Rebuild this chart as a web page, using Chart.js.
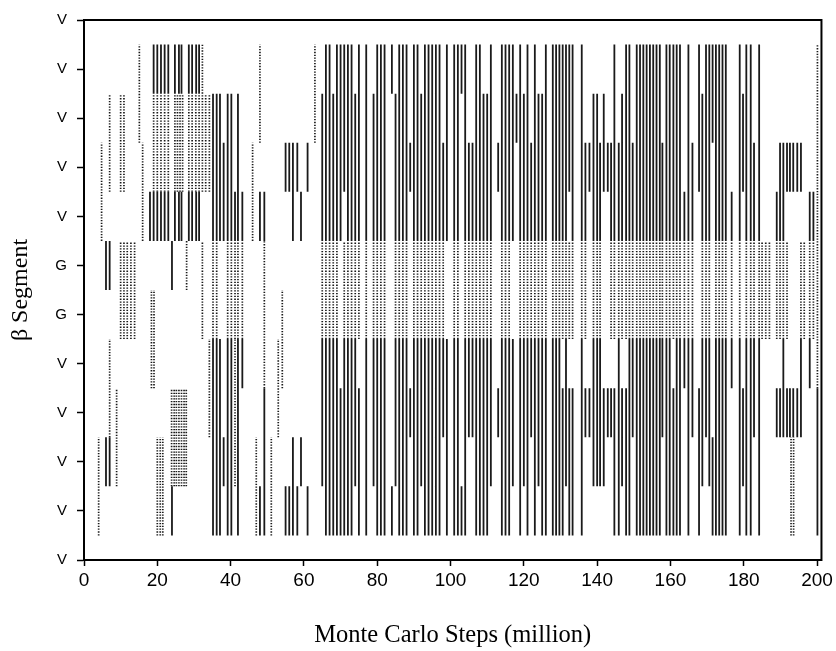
<!DOCTYPE html>
<html>
<head>
<meta charset="utf-8">
<script src="https://cdn.jsdelivr.net/npm/chart.js@4/dist/chart.umd.min.js"></script>
<style>
  html, body { margin: 0; padding: 0; background: #ffffff; }
  #wrap { width: 836px; height: 651px; }
</style>
</head>
<body>
<div id="wrap"><canvas id="c" width="836" height="651"></canvas></div>
<script>
// ---------------- DATA ----------------
// y positions: 0 (bottom) .. 11 (top); segment labels
const yLabels = ['V','V','V','V','V','G','G','V','V','V','V','V'];
const xTickStep = 20;

// Main-region columns (Monte Carlo step, million)
const colX = [65,66,67,68,69,70,71,72,73,74,75,77,79,80,81,82,84,85,86,87,88,89,90,91,92,93,94,95,96,97,98,99,101,102,103,104,105,106,107,108,109,110,111,113,114,115,116,117,118,119,120,121,122,123,124,125,126,
  127.9,128.8,129.7,130.6,131.5,132.4,133.3,135.8,136.8,137.9,139.0,140.0,140.8,141.8,142.9,143.8,144.7,145.9,146.8,147.9,148.8,149.7,150.8,151.7,152.6,153.5,154.4,155.3,156.2,157.1,157.8,158.9,159.8,160.8,161.7,162.6,163.8,164.9,166.0,167.8,168.7,169.7,170.6,171.5,172.4,173.3,174.2,175.1,176.7,178.9,179.8,180.7,181.9,182.8,184.2,189.0,189.9,190.8,191.8,192.6,193.5,194.6,195.6,198.0,199.0];
// upper V piece (solid): low and high ends
const upLo = [6.5,6.5,6.5,6.5,6.5,6.5,7.5,6.5,6.5,6.5,6.5,6.5,6.5,6.5,6.5,6.5,9.5,6.5,6.5,6.5,6.5,7.5,6.5,6.5,6.5,6.5,6.5,6.5,6.5,6.5,6.5,6.5,6.5,6.5,9.5,6.5,6.5,6.5,6.5,6.5,6.5,6.5,6.5,7.5,6.5,6.5,6.5,6.5,8.5,6.5,6.5,6.5,6.5,6.5,6.5,6.5,6.5,
  6.5,6.5,6.5,6.5,6.5,7.5,6.5,6.5,6.5,7.5,6.5,6.5,6.5,7.5,7.5,6.5,6.5,6.5,6.5,6.5,6.5,6.5,6.5,6.5,6.5,6.5,6.5,6.5,6.5,6.5,6.5,6.5,6.5,6.5,6.5,6.5,6.5,6.5,6.5,7.5,6.5,6.5,6.5,8.5,6.5,6.5,6.5,6.5,6.5,6.5,7.5,6.5,6.5,6.5,6.5,6.5,6.5,6.5,7.5,7.5,7.5,7.5,7.5,6.5,6.5];
const upHi = [9.5,10.5,10.5,9.5,10.5,10.5,10.5,10.5,10.5,9.5,10.5,10.5,9.5,10.5,10.5,10.5,10.5,9.5,10.5,10.5,10.5,8.5,10.5,10.5,9.5,10.5,10.5,10.5,10.5,10.5,8.5,10.5,10.5,10.5,10.5,10.5,8.5,8.5,10.5,10.5,9.5,9.5,10.5,8.5,10.5,10.5,10.5,10.5,9.5,10.5,9.5,10.5,8.5,10.5,9.5,9.5,10.5,
  10.5,10.5,10.5,10.5,10.5,10.5,10.5,10.5,8.5,8.5,9.5,9.5,8.5,9.5,8.5,8.5,10.5,8.5,9.5,10.5,10.5,8.5,10.5,10.5,10.5,10.5,10.5,10.5,10.5,10.5,8.5,10.5,10.5,10.5,10.5,10.5,7.5,10.5,8.5,10.5,9.5,10.5,10.5,10.5,10.5,10.5,10.5,10.5,7.5,10.5,9.5,10.5,10.5,8.5,10.5,7.5,8.5,8.5,8.5,8.5,8.5,8.5,8.5,7.5,7.5];
// G band piece (dotted) present?
const gBand = [1,1,1,1,1,0,1,1,1,1,1,1,1,1,1,1,0,1,1,1,1,0,1,1,1,1,1,1,1,1,1,0,1,1,0,1,1,1,1,1,1,1,1,0,1,1,1,0,0,1,1,1,1,1,1,1,1,
  1,1,1,1,1,1,1,1,1,0,1,1,1,0,0,1,1,1,1,1,1,1,1,1,1,1,1,1,1,1,1,1,1,1,1,1,1,1,1,0,1,1,1,0,1,1,1,1,1,1,0,1,1,1,1,1,1,1,1,0,0,0,1,1,1];
// lower V piece (solid)
const dnLo = [1.5,0.5,0.5,0.5,0.5,0.5,0.5,0.5,0.5,1.5,0.5,0.5,1.5,0.5,0.5,0.5,0.5,1.5,0.5,0.5,0.5,2.5,0.5,0.5,1.5,0.5,0.5,0.5,0.5,0.5,2.5,0.5,0.5,0.5,0.5,0.5,2.5,2.5,0.5,0.5,0.5,0.5,1.5,2.5,0.5,0.5,0.5,1.5,null,0.5,1.5,0.5,2.5,0.5,1.5,0.5,0.5,
  0.5,0.5,0.5,0.5,1.5,0.5,0.5,0.5,2.5,2.5,1.5,1.5,1.5,1.5,2.5,2.5,0.5,0.5,1.5,0.5,0.5,2.5,0.5,0.5,0.5,0.5,0.5,0.5,0.5,0.5,2.5,0.5,0.5,0.5,0.5,0.5,3.5,0.5,2.5,0.5,1.5,2.5,1.5,0.5,0.5,0.5,0.5,0.5,3.5,0.5,1.5,0.5,0.5,2.5,0.5,2.5,2.5,2.5,2.5,2.5,2.5,2.5,2.5,3.5,3.5];
const dnHi = [4.5,4.5,4.5,4.5,4.5,3.5,4.5,4.5,4.5,4.5,3.5,4.5,4.5,4.5,4.5,4.5,1.5,4.5,4.5,4.5,4.5,3.5,4.5,4.5,4.5,4.5,4.5,4.5,4.5,4.5,4.5,4.5,4.5,4.5,1.5,4.5,4.5,4.5,4.5,4.5,4.5,4.5,4.5,3.5,4.5,4.5,4.5,4.5,null,4.5,4.5,4.5,4.5,4.5,4.5,4.5,4.5,
  4.5,4.5,4.5,3.5,4.5,3.5,3.5,4.5,3.5,3.5,4.5,4.5,4.5,3.5,3.5,3.5,3.5,4.5,3.5,3.5,4.5,4.5,4.5,4.5,4.5,4.5,4.5,4.5,4.5,4.5,4.5,4.5,4.5,3.5,4.5,4.5,4.5,4.5,4.5,3.5,4.5,4.5,4.5,2.5,4.5,4.5,4.5,4.5,4.5,4.5,3.5,4.5,4.5,4.5,4.5,3.5,3.5,4.5,3.5,3.5,3.5,3.5,4.5,4.5];

// Irregular solid pieces (mostly the early part of the run)
const solidX  = [6,6,7,7,18,19,19,20,20,21,21,22,22,23,23,24,24,24.8,24.8,25.9,25.9,26.6,26.6,28.6,28.6,29.5,29.5,30.6,30.6,31.4,31.4,35.2,35.2,36.2,36.2,37.1,37.1,38.1,38.1,39.2,39.2,40.2,40.2,41.2,42.0,42.0,43.2,43.2,48,48,49.2,49.2,55,55,56,56,57,57,58.2,58.2,59.2,59.2,61,61,200.1];
const solidLo = [5.5,1.5,5.5,1.5,6.5,9.5,6.5,9.5,6.5,9.5,6.5,9.5,6.5,9.5,6.5,5.5,0.5,9.5,6.5,9.5,6.5,9.5,6.5,9.5,6.5,9.5,6.5,9.5,6.5,9.5,6.5,6.5,0.5,6.5,0.5,6.5,0.5,6.5,1.5,6.5,0.5,6.5,0.5,6.5,6.5,0.5,6.5,3.5,6.5,0.5,6.5,0.5,7.5,0.5,7.5,0.5,6.5,0.5,7.5,0.5,6.5,1.5,7.5,0.5,0.5];
const solidHi = [6.5,2.5,6.5,2.5,7.5,10.5,7.5,10.5,7.5,10.5,7.5,10.5,7.5,10.5,7.5,6.5,1.5,10.5,7.5,10.5,7.5,10.5,7.5,10.5,7.5,10.5,7.5,10.5,7.5,10.5,7.5,9.5,4.5,9.5,4.5,9.5,4.5,8.5,2.5,9.5,4.5,9.5,4.5,7.5,9.5,4.5,7.5,4.5,7.5,1.5,7.5,3.5,8.5,1.5,8.5,1.5,8.5,2.5,8.5,1.5,7.5,2.5,8.5,1.5,3.5];

// Irregular dotted pieces
const dotX  = [4,4.8,7,7,8.9,10,10.9,10,10.9,11.8,12.8,13.8,15.1,16,18.4,19.1,
  19,20,21,22,23,24.8,25.5,26.2,26.9,28.6,29.5,30.5,31.4,32.3,33.2,34.2,
  20,20.8,21.5,23.9,24.6,25.2,25.9,26.6,27.3,27.9,28,32.3,32.3,34.2,
  35.2,36.2,39.2,40.2,41.2,42.0,43.2,41.2,46,47,48,49.2,51.1,53,54.1,63,
  185,186,187,196.5,192.9,193.6,200.1];
const dotLo = [0.5,6.5,7.5,2.5,1.5,7.5,7.5,4.5,4.5,4.5,4.5,4.5,8.5,6.5,3.5,3.5,
  7.5,7.5,7.5,7.5,7.5,7.5,7.5,7.5,7.5,7.5,7.5,7.5,7.5,7.5,7.5,7.5,
  0.5,0.5,0.5,1.5,1.5,1.5,1.5,1.5,1.5,1.5,5.5,9.5,4.5,2.5,
  4.5,4.5,4.5,4.5,4.5,4.5,4.5,1.5,6.5,0.5,8.5,3.5,0.5,2.5,3.5,8.5,
  4.5,4.5,4.5,4.5,0.5,0.5,3.5];
const dotHi = [2.5,8.5,9.5,4.5,3.5,9.5,9.5,6.5,6.5,6.5,6.5,6.5,10.5,8.5,5.5,5.5,
  9.5,9.5,9.5,9.5,9.5,9.5,9.5,9.5,9.5,9.5,9.5,9.5,9.5,9.5,9.5,9.5,
  2.5,2.5,2.5,3.5,3.5,3.5,3.5,3.5,3.5,3.5,6.5,10.5,6.5,4.5,
  6.5,6.5,6.5,6.5,6.5,6.5,6.5,4.5,8.5,2.5,10.5,6.5,2.5,4.5,5.5,10.5,
  6.5,6.5,6.5,6.5,2.5,2.5,10.5];

// ---------------- BUILD DATASETS ----------------
const solidPts = [];
const dotPts = [];
function seg(arr, x, lo, hi) {
  if (lo === null || hi === null) return;
  arr.push({x: x, y: lo}, {x: x, y: hi}, {x: x, y: null});
}
for (let i = 0; i < colX.length; i++) {
  seg(solidPts, colX[i], upLo[i], upHi[i]);
  if (gBand[i]) seg(dotPts, colX[i], 4.5, 6.5);
  seg(solidPts, colX[i], dnLo[i], dnHi[i]);
}
for (let i = 0; i < solidX.length; i++) seg(solidPts, solidX[i], solidLo[i], solidHi[i]);
for (let i = 0; i < dotX.length; i++) seg(dotPts, dotX[i], dotLo[i], dotHi[i]);

const framePlugin = {
  id: 'frame',
  afterDraw(chart) {
    const a = chart.chartArea, ctx = chart.ctx;
    ctx.save();
    ctx.strokeStyle = '#000';
    ctx.lineWidth = 2;
    ctx.strokeRect(a.left, a.top, a.right - a.left, a.bottom - a.top);
    ctx.restore();
  }
};

const tickFont = { family: "'Liberation Sans Narrow', 'Liberation Sans', Arial, sans-serif", size: 19 };

new Chart(document.getElementById('c'), {
  type: 'scatter',
  data: {
    datasets: [
      { data: dotPts, showLine: true, spanGaps: false, pointRadius: 0, borderColor: '#1a1a1a',
        borderWidth: 1.7, borderDash: [1.3, 1.5], borderCapStyle: 'butt' },
      { data: solidPts, showLine: true, spanGaps: false, pointRadius: 0, borderColor: '#1a1a1a',
        borderWidth: 1.8, borderCapStyle: 'butt' }
    ]
  },
  options: {
    responsive: false,
    animation: false,
    devicePixelRatio: 1,
    layout: { padding: { left: 4, right: 14, top: 20, bottom: 0 } },
    plugins: { legend: { display: false }, tooltip: { enabled: false } },
    scales: {
      x: {
        type: 'linear', min: 0, max: 201.2,
        afterFit(s) { s.height = 91; },
        ticks: { stepSize: xTickStep, includeBounds: false, color: '#000', font: tickFont, padding: 3, maxRotation: 0 },
        grid: { drawOnChartArea: false, drawTicks: true, tickLength: 6, tickColor: '#000', tickWidth: 1.5 },
        border: { display: true, color: '#000', width: 2 },
        title: { display: true, text: 'Monte Carlo Steps (million)', color: '#000',
          font: { family: "'Liberation Serif', 'Times New Roman', serif", size: 24.5 }, padding: { top: 0, bottom: 1 } }
      },
      y: {
        type: 'linear', min: 0, max: 11,
        afterFit(s) { s.width = 80; },
        ticks: { stepSize: 1, includeBounds: false, color: '#000',
          font: { family: "'Liberation Sans Narrow', 'Liberation Sans', Arial, sans-serif", size: 15 },
          padding: 10, callback: (v) => yLabels[v] },
        grid: { drawOnChartArea: false, drawTicks: true, tickLength: 7, tickColor: '#000', tickWidth: 1.5 },
        border: { display: true, color: '#000', width: 2 },
        title: { display: true, text: 'β Segment', color: '#000',
          font: { family: "'Liberation Serif', 'Times New Roman', serif", size: 24 }, padding: { top: 2, bottom: 0 } }
      }
    }
  },
  plugins: [framePlugin]
});
</script>
</body>
</html>
